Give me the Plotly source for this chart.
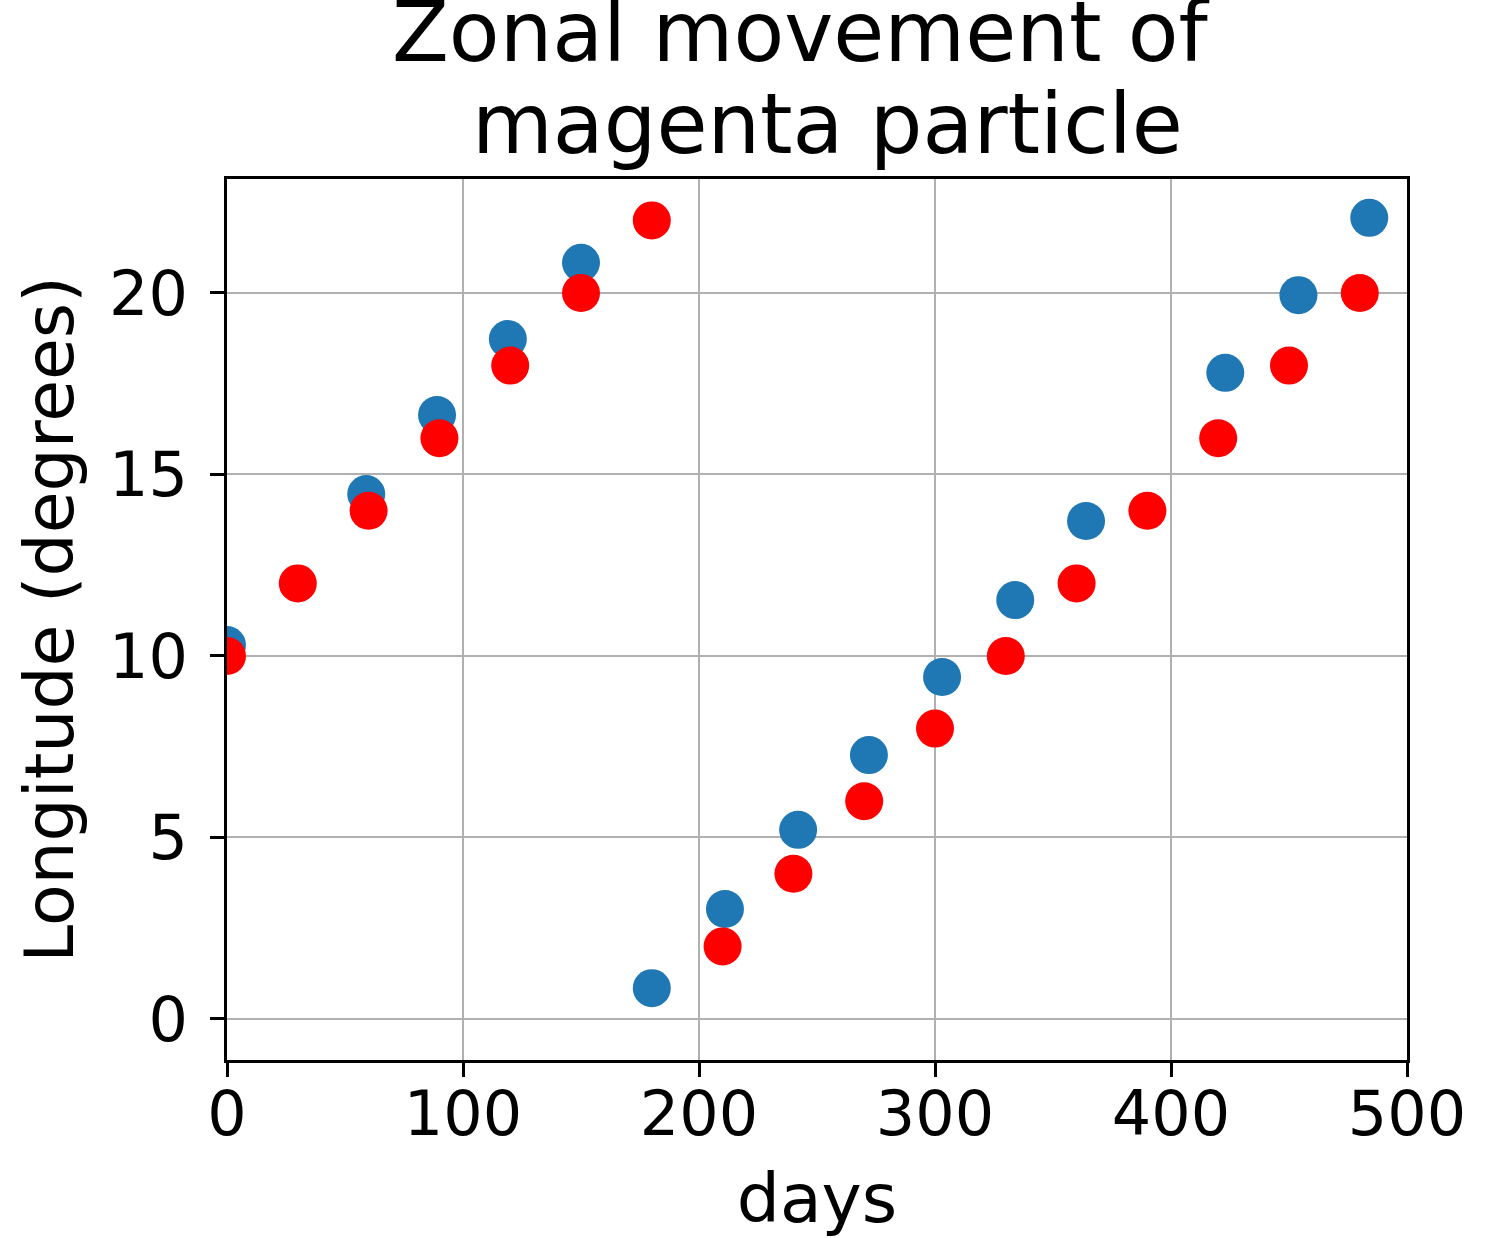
import plotly.graph_objects as go

# Blue particle track (days, longitude in degrees)
blue_days = [0, 59, 89, 119, 150, 180, 211, 242, 272, 303, 334, 364, 423, 454, 484]
blue_lon = [10.30, 14.46, 16.64, 18.73, 20.83, 0.85, 3.03, 5.21, 7.27, 9.42,
            11.54, 13.72, 17.80, 19.94, 22.07]

# Red particle track (days, longitude in degrees)
red_days = [0, 30, 60, 90, 120, 150, 180, 210, 240, 270, 300, 330, 360, 390,
            420, 450, 480]
red_lon = [10.0, 12.0, 14.0, 16.0, 18.0, 20.0, 22.0, 2.0, 4.0, 6.0, 8.0, 10.0,
           12.0, 14.0, 16.0, 18.0, 20.0]

x_ticks = [0, 100, 200, 300, 400, 500]
y_ticks = [0, 5, 10, 15, 20]

FONT = "DejaVu Sans"

fig = go.Figure()
fig.add_trace(go.Scatter(
    x=blue_days, y=blue_lon, mode="markers",
    marker=dict(color="#1f77b4", size=38, line=dict(width=0)),
    showlegend=False,
))
fig.add_trace(go.Scatter(
    x=red_days, y=red_lon, mode="markers",
    marker=dict(color="#ff0000", size=38, line=dict(width=0)),
    showlegend=False,
))

L, R, T, B = 227, 78, 179, 178
W, H = 1485, 1238
pw = W - L - R
ph = H - T - B


def px(xpix):
    return (xpix - L) / pw


axis_common = dict(
    showline=True, linecolor="black", linewidth=2.5, mirror=True,
    ticks="outside", ticklen=14, tickwidth=2.5, tickcolor="black",
    showgrid=True, gridcolor="#b0b0b0", gridwidth=1.6,
    zeroline=False,
    tickfont=dict(family=FONT, size=62, color="black"),
    title_font=dict(family=FONT, size=68, color="black"),
)

fig.update_xaxes(
    range=[0, 500], tickvals=x_ticks, ticktext=[str(v) for v in x_ticks],
    title_text="days", title_standoff=28, ticklabelstandoff=-16,
    **axis_common,
)
fig.update_yaxes(
    range=[-1.13, 23.14], tickvals=y_ticks, ticktext=[str(v) for v in y_ticks],
    title_text="Longitude (degrees)", title_standoff=14, ticklabelstandoff=10,
    **axis_common,
)

# Two-line title, each line placed on its own
fig.add_annotation(text="Zonal movement of", xref="paper", yref="paper",
                   x=px(801), y=1 + (T - 64 - 19) / ph,
                   xanchor="center", yanchor="bottom", showarrow=False,
                   font=dict(family=FONT, size=83, color="black"))
fig.add_annotation(text="magenta particle", xref="paper", yref="paper",
                   x=px(827), y=1 + (T - 156 - 19) / ph,
                   xanchor="center", yanchor="bottom", showarrow=False,
                   font=dict(family=FONT, size=83, color="black"))

fig.update_layout(
    width=W, height=H,
    margin=dict(l=L, r=R, t=T, b=B, pad=0),
    paper_bgcolor="white", plot_bgcolor="white",
    font=dict(family=FONT, color="black"),
)

fig.write_html("out.html")
